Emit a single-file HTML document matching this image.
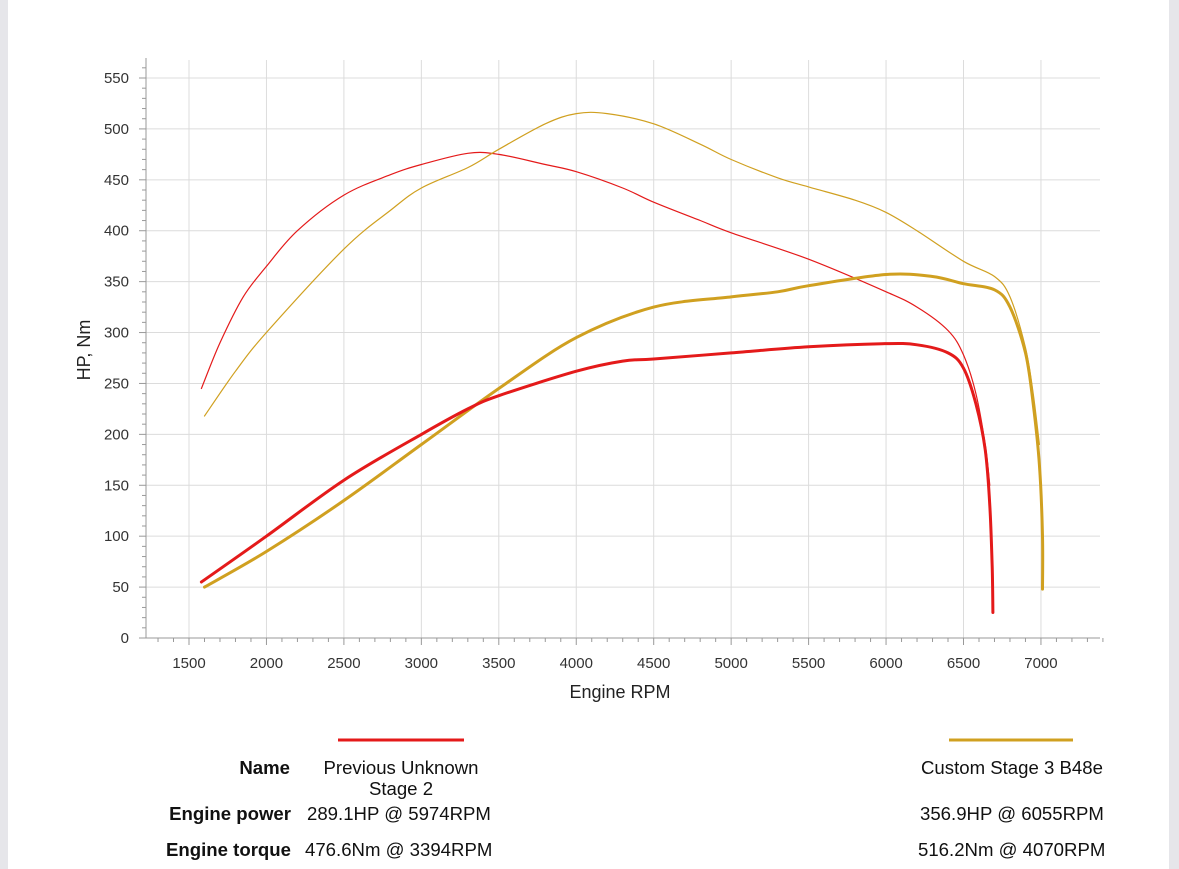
<!DOCTYPE html>
<html><head><meta charset="utf-8"><style>
html,body{margin:0;padding:0;background:#fff;}
body{width:1179px;height:869px;position:relative;overflow:hidden;font-family:"Liberation Sans",sans-serif;}
.bl{position:absolute;left:0;top:0;width:8px;height:869px;background:#e6e6ea;}
.br{position:absolute;right:0;top:0;width:10px;height:869px;background:#e6e6ea;}
.t{position:absolute;font-size:18.6px;color:#111;white-space:nowrap;}
.b{font-weight:bold;}
</style></head><body>
<div class="bl"></div><div class="br"></div>
<svg id="s" width="1179" height="869" style="position:absolute;left:0;top:0" font-family="Liberation Sans, sans-serif"></svg>
<div class="t b" style="right:889px;top:757px">Name</div>
<div class="t b" style="right:888px;top:803px">Engine power</div>
<div class="t b" style="right:888px;top:839px">Engine torque</div>
<div class="t" style="left:318px;top:757px;text-align:center;width:166px;line-height:21px">Previous Unknown<br>Stage 2</div>
<div class="t" style="left:307px;top:803px">289.1HP @ 5974RPM</div>
<div class="t" style="left:305px;top:839px">476.6Nm @ 3394RPM</div>
<div class="t" style="left:921px;top:757px">Custom Stage 3 B48e</div>
<div class="t" style="left:920px;top:803px">356.9HP @ 6055RPM</div>
<div class="t" style="left:918px;top:839px">516.2Nm @ 4070RPM</div>
<script>
var s=document.getElementById('s'),h='';
function X(r){return 189+(r-1500)*0.1549;}
function Y(v){return 638-v*1.01818;}
for(var v=0;v<=550;v+=50){var y=Y(v);if(v>0)h+='<line x1="146" x2="1100" y1="'+y+'" y2="'+y+'" stroke="#dcdcdc"/>';
h+='<text x="129" y="'+(y+5)+'" text-anchor="end" font-size="15" fill="#333">'+v+'</text>';}
for(var v=0;v<=560;v+=10){var y=Y(v);h+='<line x1="'+(v%50?142:139)+'" x2="146" y1="'+y+'" y2="'+y+'" stroke="#999"/>';}
for(var r=1500;r<=7000;r+=500){var x=X(r);h+='<line x1="'+x+'" x2="'+x+'" y1="60" y2="638" stroke="#dcdcdc"/>';
h+='<text x="'+x+'" y="668" text-anchor="middle" font-size="15" fill="#333">'+r+'</text>';}
for(var r=1300;r<=7400;r+=100){var x=X(r);h+='<line x1="'+x+'" x2="'+x+'" y1="638" y2="'+(r%500?642:645)+'" stroke="#999"/>';}
h+='<line x1="146" x2="146" y1="58" y2="638" stroke="#999"/><line x1="146" x2="1100" y1="638" y2="638" stroke="#999"/>';
h+='<text x="620" y="698" text-anchor="middle" font-size="18" fill="#222">Engine RPM</text>';
h+='<text transform="translate(90,350) rotate(-90)" text-anchor="middle" font-size="18" fill="#222">HP, Nm</text>';
function P(d,c,w){var pts=d.map(function(q){return [X(q[0]),Y(q[1])];});
var p='M'+pts[0][0].toFixed(1)+','+pts[0][1].toFixed(1);
for(var i=0;i<pts.length-1;i++){var p0=pts[i?i-1:0],p1=pts[i],p2=pts[i+1],p3=pts[i+2<pts.length?i+2:i+1];
var c1=[p1[0]+(p2[0]-p0[0])/6,p1[1]+(p2[1]-p0[1])/6],c2=[p2[0]-(p3[0]-p1[0])/6,p2[1]-(p3[1]-p1[1])/6];
p+='C'+c1[0].toFixed(1)+','+c1[1].toFixed(1)+' '+c2[0].toFixed(1)+','+c2[1].toFixed(1)+' '+p2[0].toFixed(1)+','+p2[1].toFixed(1);}
h+='<path d="'+p+'" fill="none" stroke="'+c+'" stroke-width="'+w+'" stroke-linejoin="round" stroke-linecap="round"/>';}
var R='#e41a1a',G='#d0a020';
P([[1580,245],[1700,290],[1850,335],[2000,365],[2200,400],[2500,435],[2800,455],[3000,465],[3300,476],[3500,475],[3800,465],[4000,458],[4300,442],[4500,428],[4800,410],[5000,398],[5500,372],[6000,340],[6200,325],[6400,302],[6500,278],[6580,240],[6640,190],[6670,150]],R,1.2);
P([[1600,218],[1800,262],[2000,300],[2500,382],[2800,420],[3000,442],[3300,462],[3500,480],[3800,505],[4000,515],[4200,515],[4500,505],[4800,485],[5000,470],[5300,452],[5500,443],[5800,430],[6000,418],[6200,400],[6500,370],[6700,355],[6800,335],[6900,285],[6950,240],[6990,190]],G,1.2);
P([[1600,50],[2000,85],[2500,135],[3000,190],[3500,245],[4000,295],[4500,325],[5000,335],[5300,340],[5500,346],[6000,357],[6300,355],[6500,348],[6700,342],[6800,325],[6900,280],[6950,230],[6990,170],[7010,100],[7010,48]],G,3);
P([[1580,55],[2000,100],[2500,155],[3000,200],[3300,225],[3500,238],[4000,262],[4300,272],[4500,274],[5000,280],[5500,286],[5974,289],[6200,288],[6400,280],[6500,265],[6580,230],[6640,185],[6670,130],[6685,70],[6690,25]],R,3);
h+='<line x1="338" x2="464" y1="740" y2="740" stroke="'+R+'" stroke-width="3"/><line x1="949" x2="1073" y1="740" y2="740" stroke="'+G+'" stroke-width="3"/>';
s.innerHTML=h;
</script>
</body></html>
